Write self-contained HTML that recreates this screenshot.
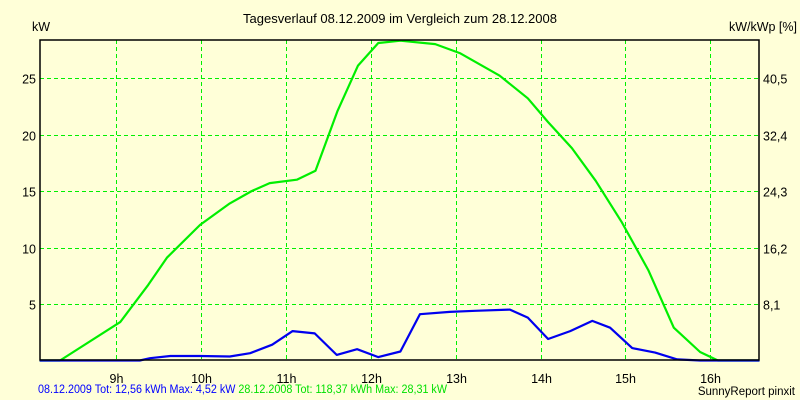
<!DOCTYPE html>
<html><head><meta charset="utf-8"><style>
html,body{margin:0;padding:0;background:#FFFFD8;}
svg{display:block;font-family:"Liberation Sans",Arial,sans-serif;}
</style></head><body>
<svg id="chart" width="800" height="400" viewBox="0 0 800 400" xmlns="http://www.w3.org/2000/svg">
<rect width="800" height="400" fill="#FFFFD8"/>
<text x="400" y="23" text-anchor="middle" font-size="12.5" fill="#000" textLength="314" lengthAdjust="spacingAndGlyphs">Tagesverlauf 08.12.2009 im Vergleich zum 28.12.2008</text>
<text x="32" y="31" font-size="12.5" fill="#000">kW</text>
<text x="797" y="31" text-anchor="end" font-size="12.5" fill="#000">kW/kWp [%]</text>
<g id="grid"></g>
<g id="series"></g>
<g id="labels"></g>
<rect x="40" y="40" width="719" height="320" fill="none" stroke="#000" stroke-width="1.5"/>
<text x="38" y="393" font-size="11.5" textLength="409" lengthAdjust="spacingAndGlyphs"><tspan fill="#0000FF">08.12.2009 Tot: 12,56 kWh Max: 4,52 kW </tspan><tspan fill="#00E000">28.12.2008 Tot: 118,37 kWh Max: 28,31 kW</tspan></text>
<text x="795" y="395" text-anchor="end" font-size="11.5" fill="#000">SunnyReport pinxit</text>
</svg>
<script>
const hourTicks = [9,10,11,12,13,14,15,16];
const kwTicks = [5,10,15,20,25];
const pctLabels = ["8,1","16,2","24,3","32,4","40,5"];
const greenHours = [8.1,8.34,9.05,9.38,9.6,9.99,10.34,10.6,10.81,11.13,11.35,11.61,11.85,12.09,12.35,12.76,13.05,13.52,13.85,14.09,14.37,14.65,14.96,15.27,15.57,15.88,16.09,16.58];
const greenKw = [0,0,3.4,6.7,9.1,12,13.9,15,15.7,16,16.8,22.1,26.1,28.1,28.3,28,27.2,25.2,23.2,21.1,18.8,15.9,12.2,8,2.9,0.75,0,0];
const blueHours = [8.1,9.28,9.4,9.64,9.99,10.34,10.58,10.84,11.08,11.34,11.6,11.84,12.09,12.35,12.58,12.93,13.23,13.64,13.85,14.09,14.35,14.61,14.82,15.08,15.35,15.61,15.88,16.58];
const blueKw = [0,0,0.2,0.4,0.4,0.35,0.65,1.4,2.6,2.4,0.5,1.0,0.3,0.8,4.1,4.3,4.4,4.5,3.8,1.9,2.6,3.5,2.9,1.1,0.7,0.1,0,0];

const NS="http://www.w3.org/2000/svg";
const X0=40,X1=759,Y0=40,Y1=360;
function xs(h){return 116+(h-9)*84.9;}
function ys(v){return 360.5-v*11.3;}
function mk(tag,attrs,parent){const e=document.createElementNS(NS,tag);for(const k in attrs)e.setAttribute(k,attrs[k]);parent.appendChild(e);return e;}
const grid=document.getElementById('grid'),ser=document.getElementById('series'),lab=document.getElementById('labels');
hourTicks.forEach(h=>{
  const x=Math.round(xs(h))+0.5;
  const l=mk('line',{x1:x,x2:x,y1:Y0,y2:Y1,stroke:'#00F000','stroke-width':1,'stroke-dasharray':'4,3'},grid);
  
  
  const t=mk('text',{x:x,y:383,'text-anchor':'middle','font-size':12.5,fill:'#000'},lab);
  t.textContent=h+'h';
  
  
});
kwTicks.forEach((v,i)=>{
  const y=Math.round(ys(v))+0.5;
  const l=mk('line',{x1:X0,x2:X1,y1:y,y2:y,stroke:'#00F000','stroke-width':1,'stroke-dasharray':'4,3'},grid);
  
  
  const t=mk('text',{x:36,y:y+5,'text-anchor':'end','font-size':12.5,fill:'#000'},lab);
  t.textContent=v;
  
  
  const r=mk('text',{x:763,y:y+5,'font-size':12.5,fill:'#000'},lab);
  r.textContent=pctLabels[i];
  
  
});
function line(hs,vs,color,name){
  const p=hs.map((h,i)=>xs(h).toFixed(1)+','+ys(vs[i]).toFixed(1)).join(' ');
  const e=mk('polyline',{points:p,fill:'none',stroke:color,'stroke-width':2.2,'stroke-linejoin':'round'},ser);
  
  
}
line(greenHours,greenKw,'#00EE00','series-2008-line');
line(blueHours,blueKw,'#0000EE','series-2009-line');
</script>
</body></html>
